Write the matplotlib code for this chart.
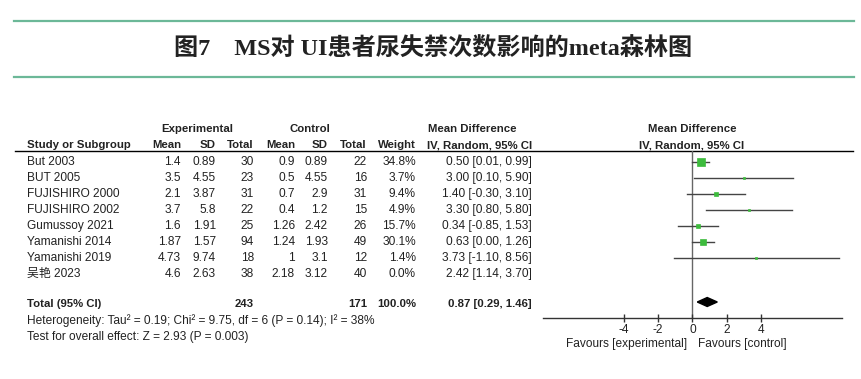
import numpy as np
import matplotlib
matplotlib.use("Agg")
import matplotlib.pyplot as plt

plt.rcParams['font.family'] = ['Liberation Sans', 'Noto Sans CJK SC', 'DejaVu Sans']

# ---- data ----
studies = ["But 2003", "BUT 2005", "FUJISHIRO 2000", "FUJISHIRO 2002",
           "Gumussoy 2021", "Yamanishi 2014", "Yamanishi 2019", "吴艳 2023"]
exp_mean = ["1.4", "3.5", "2.1", "3.7", "1.6", "1.87", "4.73", "4.6"]
exp_sd = ["0.89", "4.55", "3.87", "5.8", "1.91", "1.57", "9.74", "2.63"]
exp_n = [30, 23, 31, 22, 25, 94, 18, 38]
ctl_mean = ["0.9", "0.5", "0.7", "0.4", "1.26", "1.24", "1", "2.18"]
ctl_sd = ["0.89", "4.55", "2.9", "1.2", "2.42", "1.93", "3.1", "3.12"]
ctl_n = [22, 16, 31, 15, 26, 49, 12, 40]
weights = [34.8, 3.7, 9.4, 4.9, 15.7, 30.1, 1.4, 0.0]
md = [0.50, 3.00, 1.40, 3.30, 0.34, 0.63, 3.73, 2.42]
ci_lo = [0.01, 0.10, -0.30, 0.80, -0.85, 0.00, -1.10, 1.14]
ci_hi = [0.99, 5.90, 3.10, 5.80, 1.53, 1.26, 8.56, 3.70]
total_exp, total_ctl = 243, 171
total_md, total_lo, total_hi = 0.87, 0.29, 1.46
ticks = [-4, -2, 0, 2, 4]

W, H = 862, 379
fig = plt.figure(figsize=(W / 100, H / 100), dpi=100)
fig.patch.set_facecolor("white")

# overlay in pixel coordinates for the table and title
ov = fig.add_axes([0, 0, 1, 1])
ov.set_xlim(0, W)
ov.set_ylim(H, 0)
ov.axis("off")

green = "#6cb898"
ov.plot([14, 854], [20.5, 20.5], color=green, lw=1.6)
ov.plot([14, 854], [76.5, 76.5], color=green, lw=1.6)
ov.text(433, 49, "图7　MS对 UI患者尿失禁次数影响的meta森林图", ha="center", va="center",
        fontsize=17.4, fontweight="bold", color="#222222",
        family=["Liberation Serif", "Noto Sans CJK SC"])

fs = 8.6     # regular table text
fsb = 8.2    # bold header text
tc = "#222222"


def row_y(i):
    return 162 + 16 * i


# column right edges
c_em, c_esd, c_en, c_cm, c_csd, c_cn, c_w, c_ci = 181, 216, 254, 295, 328, 367, 416, 532
x_study = 27

# headers
hb = dict(fontsize=fsb, fontweight="bold", color=tc, va="center")
ov.text(197, 129, "Experimental", ha="center", **hb)
ov.text(310, 129, "Control", ha="center", **hb)
ov.text(428, 129, "Mean Difference", ha="left", **hb)
ov.text(692, 129, "Mean Difference", ha="center", **hb)
ov.text(x_study, 145, "Study or Subgroup", ha="left", **hb)
for x, s in [(c_em, "Mean"), (c_esd, "SD"), (c_en, "Total"), (c_cm, "Mean"),
             (c_csd, "SD"), (c_cn, "Total"), (c_w, "Weight"), (c_ci, "IV, Random, 95% CI")]:
    ov.text(x, 145, s, ha="right", **hb)
ov.text(692, 145, "IV, Random, 95% CI", ha="center", **hb)
ov.plot([15, 853], [151, 151], color="black", lw=1.0)

# study rows
rb = dict(fontsize=fs, color=tc, va="center")
for i, name in enumerate(studies):
    y = row_y(i)
    ov.text(x_study, y, name, ha="left", **rb)
    vals = [exp_mean[i], exp_sd[i], str(exp_n[i]), ctl_mean[i], ctl_sd[i], str(ctl_n[i]),
            f"{weights[i]:.1f}%", f"{md[i]:.2f} [{ci_lo[i]:.2f}, {ci_hi[i]:.2f}]"]
    for x, s in zip([c_em, c_esd, c_en, c_cm, c_csd, c_cn, c_w, c_ci], vals):
        ov.text(x, y, s, ha="right", **rb)

# total row
ty = row_y(8.9)
ov.text(x_study, ty, "Total (95% CI)", ha="left", **hb)
ov.text(c_en, ty, str(total_exp), ha="right", **hb)
ov.text(c_cn, ty, str(total_ctl), ha="right", **hb)
ov.text(c_w, ty, "100.0%", ha="right", **hb)
ov.text(c_ci, ty, f"{total_md:.2f} [{total_lo:.2f}, {total_hi:.2f}]", ha="right", **hb)
ov.text(x_study, 321, "Heterogeneity: Tau² = 0.19; Chi² = 9.75, df = 6 (P = 0.14); I² = 38%",
        ha="left", **rb)
ov.text(x_study, 337, "Test for overall effect: Z = 2.93 (P = 0.003)", ha="left", **rb)

# forest plot axes
x0, x1, ytop, ybot = 543, 842, 151, 318
ax = fig.add_axes([x0 / W, 1 - ybot / H, (x1 - x0) / W, (ybot - ytop) / H])
ax.patch.set_alpha(0)
ax.set_xlim(-8.73, 8.75)
ax.set_ylim((ybot - 162) / 16, (ytop - 162) / 16)
for s in ["top", "left", "right"]:
    ax.spines[s].set_visible(False)
ax.spines["bottom"].set_color("#333333")
ax.spines["bottom"].set_linewidth(1.0)
ax.set_yticks([])
ax.set_xticks(ticks)
ax.set_xticklabels([str(t) for t in ticks])
ax.tick_params(axis="x", direction="inout", length=6, width=1.0, color="#333333",
               labelsize=fs, labelcolor=tc, pad=1)
ax.axvline(0, color="#666666", lw=1.0, zorder=1)

for i in range(len(studies)):
    if weights[i] <= 0:
        continue
    ax.plot([ci_lo[i], ci_hi[i]], [i, i], color="#444444", lw=1.0, zorder=2)
    side_px = max(2.0, 1.19 * np.sqrt(weights[i]))
    ax.plot(md[i], i, marker="s", ms=side_px * 72 / 100, color="#3dbb3d",
            mec="#3dbb3d", mew=0.5, zorder=3)

dy = 0.28
ax.fill([total_lo, total_md, total_hi, total_md], [8.75, 8.75 - dy, 8.75, 8.75 + dy],
        color="black", zorder=3)

ov.text(687, 344, "Favours [experimental]", ha="right", **rb)
ov.text(698, 344, "Favours [control]", ha="left", **rb)
ov.set_zorder(0)
ax.set_zorder(1)

fig.savefig("out.png", dpi=100, facecolor="white")
